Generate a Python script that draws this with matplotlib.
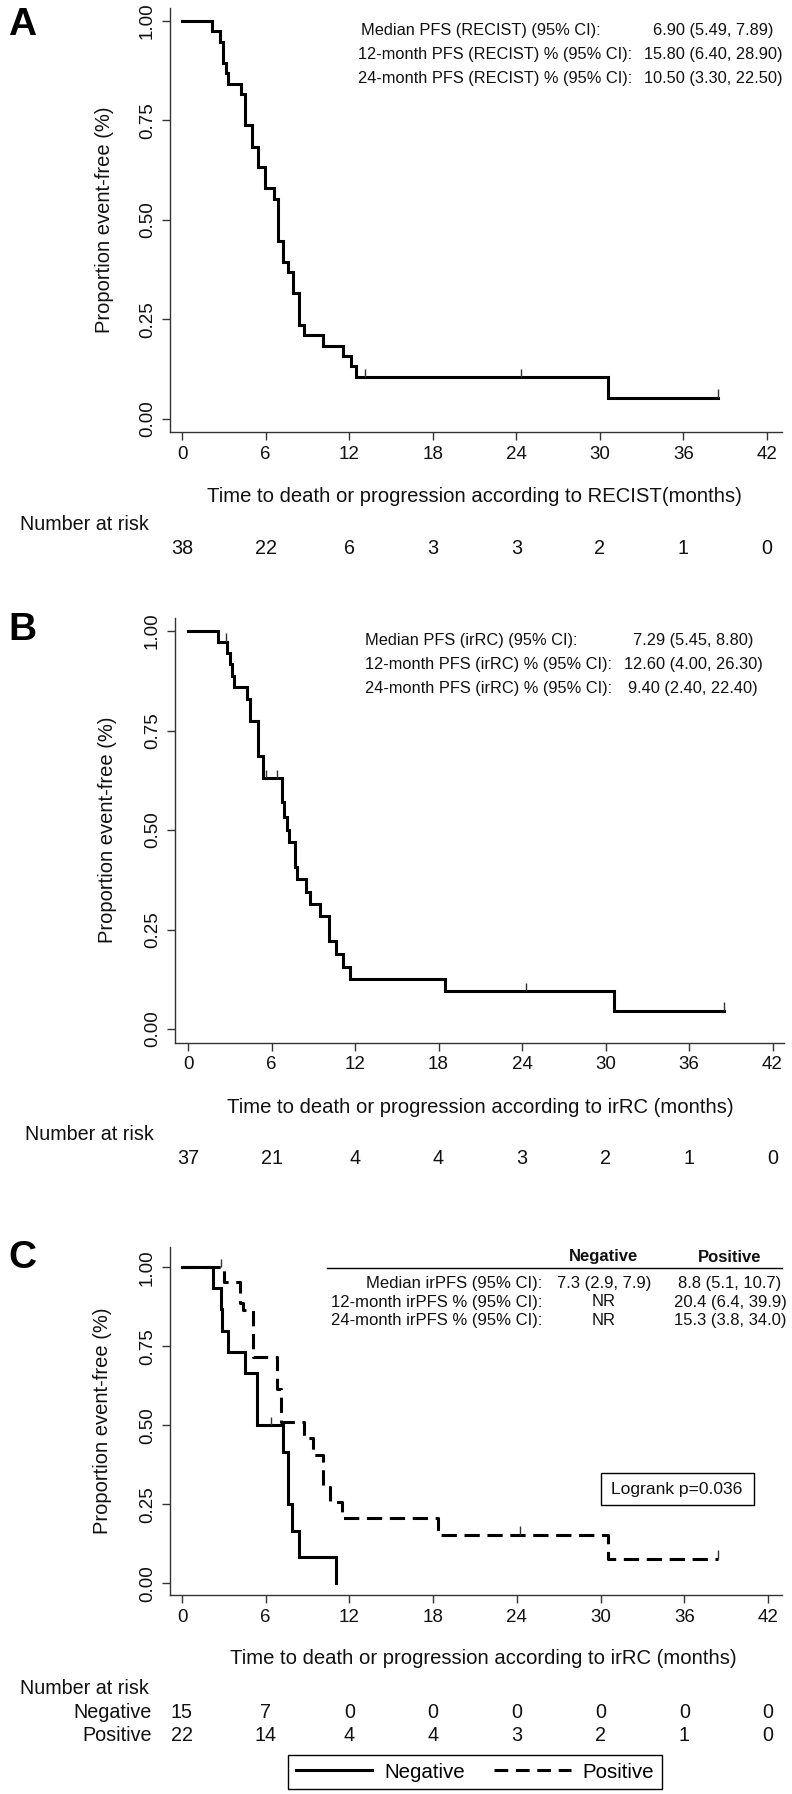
import numpy as np
import matplotlib
matplotlib.use('Agg')
import matplotlib.pyplot as plt
from matplotlib.transforms import blended_transform_factory
from matplotlib.lines import Line2D

plt.rcParams['font.family'] = ['Liberation Sans', 'DejaVu Sans']

# ---- data ----
xticks = [0, 6, 12, 18, 24, 30, 36, 42]
yticks = [0.0, 0.25, 0.50, 0.75, 1.0]

# A: PFS according to RECIST
a_time = [0, 2.15, 2.75, 2.94, 3.18, 3.33, 4.26, 4.55, 5.02, 5.45, 5.93, 6.63, 6.87,
          7.25, 7.63, 7.97, 8.40, 8.78, 10.12, 11.56, 12.10, 12.50, 30.55]
a_surv = [1.0, 0.974, 0.947, 0.895, 0.868, 0.842, 0.816, 0.737, 0.684, 0.632, 0.579, 0.553, 0.447,
          0.395, 0.368, 0.316, 0.237, 0.211, 0.184, 0.158, 0.132, 0.105, 0.053]
a_end = 38.46
a_cens = [13.16, 24.35, 38.46]
a_risk = [38, 22, 6, 3, 3, 2, 1, 0]

# B: PFS according to irRC
b_time = [0, 2.16, 2.80, 3.02, 3.17, 3.31, 4.27, 4.46, 5.06, 5.42, 6.79, 6.90, 7.14,
          7.26, 7.69, 7.86, 8.46, 8.75, 9.47, 10.10, 10.67, 11.15, 11.63, 18.48, 30.60]
b_surv = [1.0, 0.973, 0.944, 0.916, 0.888, 0.860, 0.829, 0.774, 0.687, 0.630, 0.571, 0.533, 0.501,
          0.471, 0.407, 0.377, 0.344, 0.313, 0.283, 0.220, 0.189, 0.156, 0.125, 0.095, 0.046]
b_end = 38.5
b_cens = [2.76, 5.64, 6.43, 24.3, 38.5]
b_risk = [37, 21, 4, 4, 3, 2, 1, 0]

# C: irPFS by group
neg_time = [0, 2.19, 2.81, 2.86, 3.29, 4.52, 5.40, 7.21, 7.62, 7.86, 8.40, 11.07]
neg_surv = [1.0, 0.933, 0.867, 0.800, 0.733, 0.667, 0.500, 0.417, 0.250, 0.167, 0.083, 0.0]
neg_end = 11.07
neg_cens = [6.38]
pos_time = [0, 3.02, 4.17, 4.40, 5.07, 6.79, 7.07, 8.74, 9.40, 10.12, 10.60, 11.50, 18.36, 30.50]
pos_surv = [1.0, 0.955, 0.886, 0.864, 0.716, 0.614, 0.512, 0.459, 0.406, 0.306, 0.258, 0.208, 0.153, 0.077]
pos_end = 38.45
pos_cens = [2.80, 24.2, 38.45]
neg_risk = [15, 7, 0, 0, 0, 0, 0, 0]
pos_risk = [22, 14, 4, 4, 3, 2, 1, 0]

a_lines = ["Median PFS (RECIST) (95% CI):", "12-month PFS (RECIST) % (95% CI):",
           "24-month PFS (RECIST) % (95% CI):"]
a_vals = ["6.90 (5.49, 7.89)", "15.80 (6.40, 28.90)", "10.50 (3.30, 22.50)"]
b_lines = ["Median PFS (irRC) (95% CI):", "12-month PFS (irRC) % (95% CI):",
           "24-month PFS (irRC) % (95% CI):"]
b_vals = ["7.29 (5.45, 8.80)", "12.60 (4.00, 26.30)", "9.40 (2.40, 22.40)"]
c_rows = ["Median irPFS (95% CI):", "12-month irPFS % (95% CI):", "24-month irPFS % (95% CI):"]
c_neg = ["7.3 (2.9, 7.9)", "NR", "NR"]
c_pos = ["8.8 (5.1, 10.7)", "20.4 (6.4, 39.9)", "15.3 (3.8, 34.0)"]

W, H = 792, 1794
fig = plt.figure(figsize=(W / 100, H / 100), dpi=100)
AX_COL = '#333333'
TXT = '#111111'


def ftext(x, y, s, **kw):
    kw.setdefault('color', TXT)
    return fig.text(x / W, 1 - y / H, s, **kw)


def make_ax(left, right, top, bottom, x0, x42, y1, y0):
    # pixel positions -> axes with matching limits
    ax = fig.add_axes([left / W, 1 - bottom / H, (right - left) / W, (bottom - top) / H])
    ppm = (x42 - x0) / 42.0
    ppu = y0 - y1
    ax.set_xlim(-(x0 - left) / ppm, 42 + (right - x42) / ppm)
    ax.set_ylim(-(bottom - y0) / ppu, 1 + (y1 - top) / ppu)
    for s in ['top', 'right']:
        ax.spines[s].set_visible(False)
    for s in ['left', 'bottom']:
        ax.spines[s].set_color(AX_COL)
        ax.spines[s].set_linewidth(1.0)
    ax.set_xticks(xticks)
    ax.set_xticklabels([str(v) for v in xticks])
    ax.set_yticks(yticks)
    ax.set_yticklabels(['%.2f' % v for v in yticks], rotation=90, va='center')
    ax.tick_params(length=6, width=1, color=AX_COL, labelsize=13.5, labelcolor=TXT)
    ax.tick_params(axis='x', pad=4)
    ax.tick_params(axis='y', pad=4)
    ax.patch.set_alpha(0)
    return ax, ppu


def km(ax, t, s, end, cens, ppu, **kw):
    ax.step(list(t) + [end], list(s) + [s[-1]], where='post', color='black',
            lw=2.2, solid_joinstyle='miter', **kw)
    t = np.array(t)
    for c in cens:
        v = s[np.searchsorted(t, c, side='right') - 1]
        ax.vlines(c, v, v + 8.5 / ppu, color=AX_COL, lw=1)


def risk_row(ax, y, vals, size=14.2):
    tr = blended_transform_factory(ax.transData, fig.transFigure)
    for x, v in zip(xticks, vals):
        ax.text(x, 1 - y / H, str(v), transform=tr, ha='center', va='center',
                fontsize=size, color=TXT)


# ---------- panel A ----------
axA, pA = make_ax(170, 782, 8, 432.5, 182, 767, 20.7, 419)
km(axA, a_time, a_surv, a_end, a_cens, pA)
ftext(8, 35, 'A', fontsize=28, fontweight='bold', color='black')
ftext(104, 220, 'Proportion event-free (%)', rotation=90, ha='center', va='center', fontsize=14.5)
ftext(474, 497, 'Time to death or progression according to RECIST(months)',
      ha='center', va='center', fontsize=14.6)
for i, (l, v) in enumerate(zip(a_lines, a_vals)):
    y = [30.5, 54, 78][i]
    ftext(361 if i == 0 else 358, y, l, ha='left', va='center', fontsize=11.8)
    ftext(713, y, v, ha='center', va='center', fontsize=11.8)
ftext(20, 524, 'Number at risk', ha='left', va='center', fontsize=14.2)
risk_row(axA, 548, a_risk)

# ---------- panel B ----------
axB, pB = make_ax(175, 784, 618, 1042.5, 188, 772.5, 631, 1029)
km(axB, b_time, b_surv, b_end, b_cens, pB)
ftext(8, 640, 'B', fontsize=28, fontweight='bold', color='black')
ftext(108, 830, 'Proportion event-free (%)', rotation=90, ha='center', va='center', fontsize=14.5)
ftext(480, 1107, 'Time to death or progression according to irRC (months)',
      ha='center', va='center', fontsize=14.6)
for i, (l, v) in enumerate(zip(b_lines, b_vals)):
    y = [641, 665, 689][i]
    ftext(365, y, l, ha='left', va='center', fontsize=11.8)
    ftext(693, y, v, ha='center', va='center', fontsize=11.8)
ftext(25, 1135, 'Number at risk', ha='left', va='center', fontsize=14.2)
risk_row(axB, 1158, b_risk)

# ---------- panel C ----------
axC, pC = make_ax(170, 782, 1247, 1595, 182, 768, 1267.3, 1583.3)
km(axC, neg_time, neg_surv, neg_end, neg_cens, pC)
km(axC, pos_time, pos_surv, pos_end, pos_cens, pC, linestyle=(0, (5, 2.5)))
ftext(8, 1268, 'C', fontsize=28, fontweight='bold', color='black')
ftext(103, 1421, 'Proportion event-free (%)', rotation=90, ha='center', va='center', fontsize=14.5)
ftext(483, 1658, 'Time to death or progression according to irRC (months)',
      ha='center', va='center', fontsize=14.6)

# summary table
ftext(604, 1257, 'Negative', ha='center', va='center', fontsize=12, fontweight='bold')
ftext(730, 1257, 'Positive', ha='center', va='center', fontsize=12, fontweight='bold')
fig.add_artist(Line2D([327 / W, 782 / W], [1 - 1268.3 / H] * 2, color='black', lw=1))
for i in range(3):
    y = [1283.5, 1302, 1320.5][i]
    ftext(542, y, c_rows[i], ha='right', va='center', fontsize=12)
    ftext(604, y, c_neg[i], ha='center', va='center', fontsize=12)
    ftext(730, y, c_pos[i], ha='center', va='center', fontsize=12)

# logrank box
fig.add_artist(plt.Rectangle((600.5 / W, 1 - 1505 / H), 153.5 / W, 31.7 / H,
                             fill=False, edgecolor='black', lw=1))
ftext(677, 1489.5, 'Logrank p=0.036', ha='center', va='center', fontsize=12.6)

ftext(20, 1688, 'Number at risk', ha='left', va='center', fontsize=14.2)
ftext(152, 1712, 'Negative', ha='right', va='center', fontsize=14.2)
ftext(152, 1735, 'Positive', ha='right', va='center', fontsize=14.2)
risk_row(axC, 1712, neg_risk)
risk_row(axC, 1735, pos_risk)

handles = [Line2D([], [], color='black', lw=2.2),
           Line2D([], [], color='black', lw=2.2, linestyle=(0, (4.5, 2.5)))]
leg = fig.legend(handles, ['Negative', 'Positive'], loc='center', ncol=2,
                 bbox_to_anchor=(475 / W, 1 - 1772 / H), fontsize=14.8,
                 frameon=True, fancybox=False, edgecolor='black', framealpha=1,
                 handlelength=3.7, handletextpad=0.6, columnspacing=1.45,
                 borderpad=0.35, borderaxespad=0)
leg.get_frame().set_linewidth(1)

fig.savefig('out.png', dpi=100)
